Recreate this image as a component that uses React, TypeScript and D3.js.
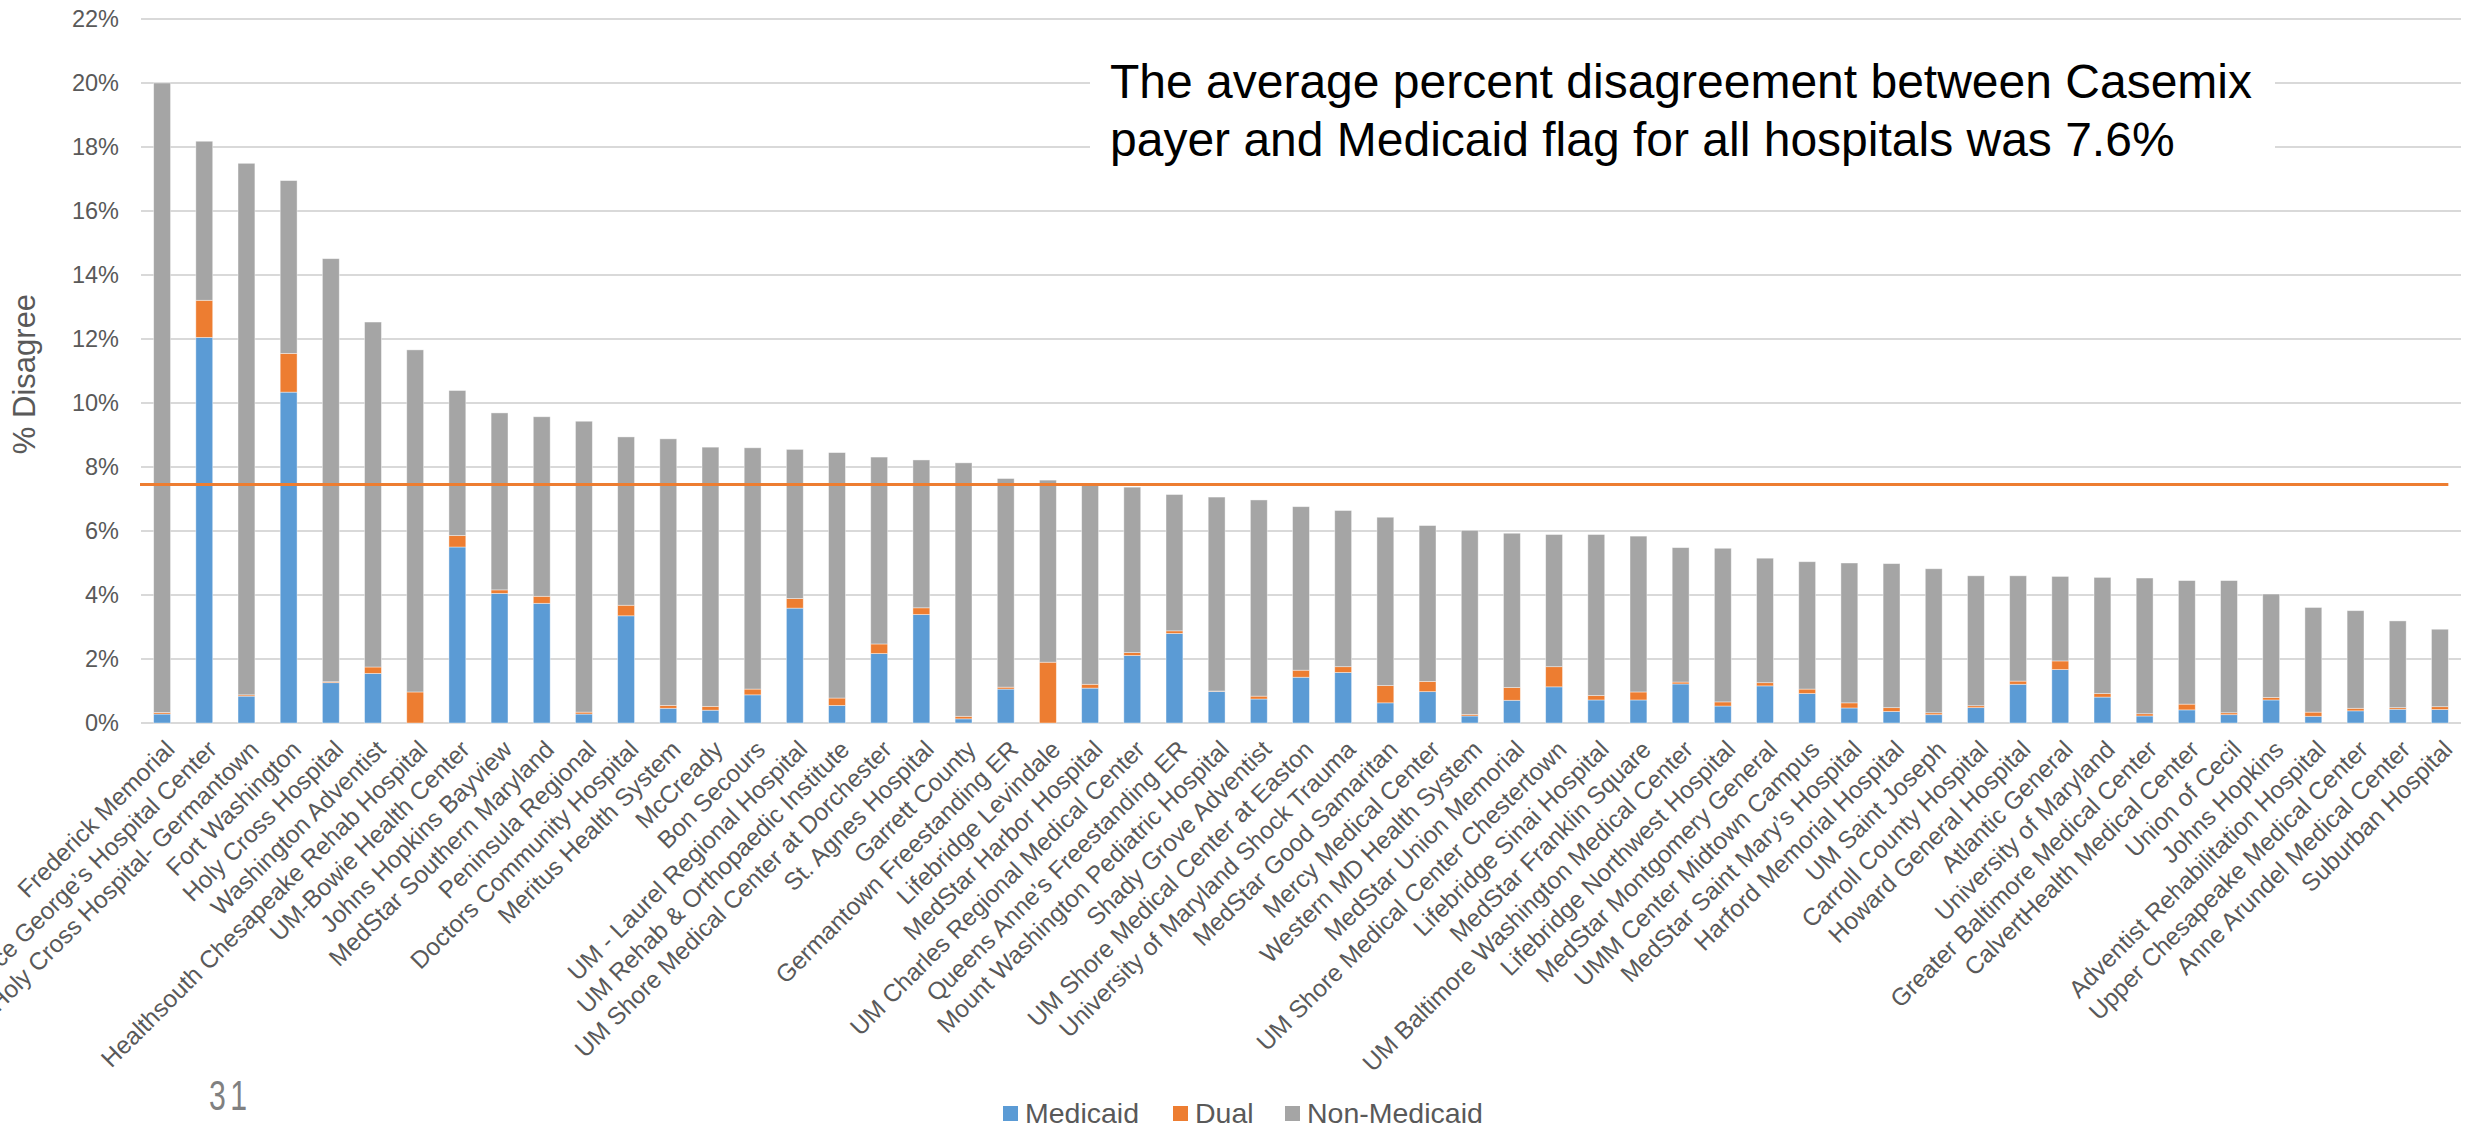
import React from 'react';
import * as d3 from 'd3';

const hospitals = [
  'Frederick Memorial',
  'Prince George\u2019s Hospital Center',
  'Holy Cross Hospital- Germantown',
  'Fort Washington',
  'Holy Cross Hospital',
  'Washington Adventist',
  'Healthsouth Chesapeake Rehab Hospital',
  'UM-Bowie Health Center',
  'Johns Hopkins Bayview',
  'MedStar Southern Maryland',
  'Peninsula Regional',
  'Doctors Community Hospital',
  'Meritus Health System',
  'McCready',
  'Bon Secours',
  'UM - Laurel Regional Hospital',
  'UM Rehab & Orthopaedic Institute',
  'UM Shore Medical Center at Dorchester',
  'St. Agnes Hospital',
  'Garrett County',
  'Germantown Freestanding ER',
  'Lifebridge Levindale',
  'MedStar Harbor Hospital',
  'UM Charles Regional Medical Center',
  'Queens Anne\u2019s Freestanding ER',
  'Mount Washington Pediatric Hospital',
  'Shady Grove Adventist',
  'UM Shore Medical Center at Easton',
  'University of Maryland Shock Trauma',
  'MedStar Good Samaritan',
  'Mercy Medical Center',
  'Western MD Health System',
  'MedStar Union Memorial',
  'UM Shore Medical Center Chestertown',
  'Lifebridge Sinai Hospital',
  'MedStar Franklin Square',
  'UM Baltimore Washington Medical Center',
  'Lifebridge Northwest Hospital',
  'MedStar Montgomery General',
  'UMM Center Midtown Campus',
  'MedStar Saint Mary\u2019s Hospital',
  'Harford Memorial Hospital',
  'UM Saint Joseph',
  'Carroll County Hospital',
  'Howard General Hospital',
  'Atlantic General',
  'University of Maryland',
  'Greater Baltimore Medical Center',
  'CalvertHealth Medical Center',
  'Union of Cecil',
  'Johns Hopkins',
  'Adventist Rehabilitation Hospital',
  'Upper Chesapeake Medical Center',
  'Anne Arundel Medical Center',
  'Suburban Hospital',
];

const medicaid = [
  0.28, 12.05, 0.84, 10.34, 1.26, 1.55, 0, 5.5, 4.05, 3.74,
  0.28, 3.35, 0.46, 0.4, 0.88, 3.59, 0.55, 2.17, 3.39, 0.13,
  1.06, 0, 1.09, 2.11, 2.8, 0.99, 0.75, 1.43, 1.58, 0.63,
  0.98, 0.22, 0.71, 1.13, 0.72, 0.72, 1.22, 0.53, 1.16, 0.92,
  0.47, 0.36, 0.26, 0.48, 1.21, 1.67, 0.81, 0.22, 0.41, 0.26,
  0.72, 0.21, 0.38, 0.43, 0.42,
];

const dual = [
  0.05, 1.16, 0.04, 1.21, 0.03, 0.2, 0.97, 0.36, 0.11, 0.22,
  0.06, 0.33, 0.09, 0.12, 0.18, 0.3, 0.23, 0.3, 0.21, 0.08,
  0.06, 1.9, 0.12, 0.09, 0.08, 0.01, 0.09, 0.22, 0.18, 0.54,
  0.32, 0.05, 0.4, 0.63, 0.14, 0.25, 0.06, 0.13, 0.1, 0.14,
  0.16, 0.12, 0.06, 0.06, 0.1, 0.27, 0.11, 0.07, 0.18, 0.06,
  0.08, 0.13, 0.08, 0.05, 0.09,
];

const nonMedicaid = [
  19.67, 4.97, 16.61, 5.4, 13.22, 10.78, 10.69, 4.53, 5.53, 5.61,
  9.09, 5.26, 8.33, 8.1, 7.54, 4.66, 7.67, 5.84, 4.62, 7.92,
  6.52, 5.69, 6.28, 5.17, 4.26, 6.06, 6.13, 5.11, 4.88, 5.26,
  4.87, 5.75, 4.82, 4.13, 5.03, 4.87, 4.2, 4.8, 3.89, 3.98,
  4.37, 4.5, 4.5, 4.06, 3.29, 2.64, 3.63, 4.24, 3.86, 4.13,
  3.23, 3.27, 3.05, 2.71, 2.42,
];

const yTicks = [0, 2, 4, 6, 8, 10, 12, 14, 16, 18, 20, 22];
const averageLine = 7.45;
const seriesNames = ['Medicaid', 'Dual', 'Non-Medicaid'];
const seriesColors = ['#5B9BD5', '#ED7D31', '#A5A5A5'];
const noteLines = [
  'The average percent disagreement between Casemix',
  'payer and Medicaid flag for all hospitals was 7.6%',
];
const yTitle = '% Disagree';
const pageNumber = '31';

const FONT = '"Liberation Sans", Arial, sans-serif';

export default function App() {
  const W = 2469;
  const H = 1130;
  const x0 = 141;
  const x1 = 2461;
  const yTop = 19;
  const yBot = 723;

  const x = d3
    .scaleBand<string>()
    .domain(hospitals)
    .range([x0, x1])
    .paddingInner(0.6)
    .paddingOuter(0.3);
  const y = d3.scaleLinear().domain([0, 22]).range([yBot, yTop]);
  const color = d3.scaleOrdinal<string, string>().domain(seriesNames).range(seriesColors);

  const rows = hospitals.map((h, i) => ({
    name: h,
    Medicaid: medicaid[i],
    Dual: dual[i],
    'Non-Medicaid': nonMedicaid[i],
  }));
  const stacked = d3.stack<any>().keys(seriesNames)(rows);

  const bw = x.bandwidth();
  const lastName = hospitals[hospitals.length - 1];
  const avgX2 = (x(lastName) as number) + bw;

  const legendItems = [
    { name: 'Medicaid', sx: 1003, tx: 1025 },
    { name: 'Dual', sx: 1173, tx: 1195 },
    { name: 'Non-Medicaid', sx: 1285, tx: 1307 },
  ];

  return (
    <svg
      width={W}
      height={H}
      style={{ position: 'absolute', left: 0, top: 0, background: '#fff' }}
      fontFamily={FONT}
    >
      <rect x={0} y={0} width={W} height={H} fill="#fff" />
      {yTicks.map((t) => (
        <g key={t}>
          <line x1={x0} x2={x1} y1={y(t)} y2={y(t)} stroke="#D9D9D9" strokeWidth={2} />
          <text
            x={119}
            y={y(t)}
            dy="0.35em"
            textAnchor="end"
            fontSize={23.5}
            fill="#595959"
          >
            {t + '%'}
          </text>
        </g>
      ))}
      <text
        transform={`translate(35, ${(yTop + yBot) / 2 + 3}) rotate(-90)`}
        textAnchor="middle"
        fontSize={31}
        fill="#595959"
      >
        {yTitle}
      </text>

      {/* note box */}
      <rect x={1090} y={40} width={1185} height={145} fill="#fff" />
      {noteLines.map((l, i) => (
        <text key={i} x={1110} y={98 + i * 57.5} fontSize={48} fill="#000">
          {l}
        </text>
      ))}

      {stacked.map((s) => (
        <g key={s.key} fill={color(s.key)}>
          {s.map((d: any, i: number) => {
            const h = y(d[0]) - y(d[1]);
            if (h <= 0) return null;
            return (
              <rect
                key={i}
                x={x(d.data.name)}
                y={y(d[1])}
                width={bw}
                height={h}
                stroke="#fff"
                strokeOpacity={0.5}
                strokeWidth={0.8}
              />
            );
          })}
        </g>
      ))}

      <line
        x1={x0 - 1}
        x2={avgX2}
        y1={y(averageLine)}
        y2={y(averageLine)}
        stroke="#ED7D31"
        strokeWidth={3}
      />

      {hospitals.map((h) => {
        const cx = (x(h) as number) + bw / 2;
        return (
          <text
            key={h}
            transform={`translate(${cx + 14}, 751) rotate(-45)`}
            textAnchor="end"
            fontSize={24.5}
            fill="#595959"
          >
            {h}
          </text>
        );
      })}

      {legendItems.map((it) => (
        <g key={it.name}>
          <rect x={it.sx} y={1106} width={15} height={15} fill={color(it.name)} />
          <text x={it.tx} y={1123} fontSize={28.5} fill="#595959">
            {it.name}
          </text>
        </g>
      ))}

      <text
        transform="translate(209, 1110) scale(0.72, 1)"
        fontSize={42}
        fill="#808080"
        fontFamily={FONT}
        letterSpacing={6}
      >
        {pageNumber}
      </text>
    </svg>
  );
}
